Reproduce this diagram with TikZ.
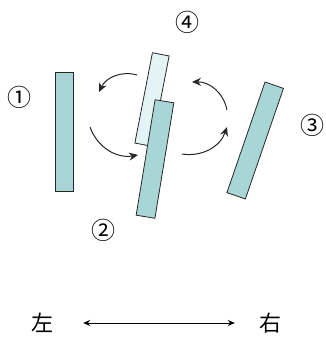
\documentclass[tikz,border=0pt]{standalone}
\usepackage{fontspec}
\newfontfamily\cjk{Noto Sans CJK JP}
\usetikzlibrary{arrows.meta}
\definecolor{barfill}{HTML}{A8D6D6}
\definecolor{barlight}{HTML}{E4F3F5}
\tikzset{
  bar/.style={draw=black!85, line width=0.8pt, fill=barfill, minimum width=18pt, inner sep=0pt, outer sep=0pt},
  num/.style={font=\cjk\fontsize{24pt}{24pt}\selectfont, inner sep=0pt},
  kanji/.style={font=\cjk\fontsize{22pt}{22pt}\selectfont, inner sep=0pt},
  turn/.style={-{Stealth[length=9pt,width=8pt]}, line width=1pt, black!85, bend right=40},
  lr/.style={{Stealth[length=7pt,width=6pt]}-{Stealth[length=7pt,width=6pt]}, line width=0.9pt}
}
\begin{document}
\begin{tikzpicture}[x=1pt,y=1pt]
\useasboundingbox (0,0) rectangle (325,338);
% bars
\node[bar, minimum height=119pt] (b1) at (64,206) {};
\node[bar, fill=barlight, minimum height=92pt, minimum width=17pt, rotate=-11] (b4) at (152,238.5) {};
\node[bar, minimum height=117pt, minimum width=19pt, rotate=-9.3] (b2) at (155,179) {};
\node[bar, minimum height=117pt, minimum width=19.5pt, rotate=-19] (b3) at (255.2,197.5) {};
% labels
\node[num] (n1) at (20,241) {①};
\node[num] (n2) at (103,108) {②};
\node[num] (n3) at (312,213) {③};
\node[num] (n4) at (187,316) {④};
% rotation arrows
\coordinate (a1s) at (137,263); \coordinate (a1e) at (99,246);
\coordinate (a2s) at (90,211);  \coordinate (a2e) at (138,183);
\coordinate (a3s) at (182,184); \coordinate (a3e) at (227,211);
\coordinate (a4s) at (227,228); \coordinate (a4e) at (192,256);
\draw[turn] (a1s) to (a1e);
\draw[turn] (a2s) to (a2e);
\draw[turn] (a3s) to (a3e);
\draw[turn] (a4s) to (a4e);
% left-right
\node[kanji] (L) at (42,15) {左};
\node[kanji] (R) at (270,15) {右};
\draw[lr] ([xshift=30pt]L.east) -- ([xshift=-24pt]R.west);
\end{tikzpicture}
\end{document}
